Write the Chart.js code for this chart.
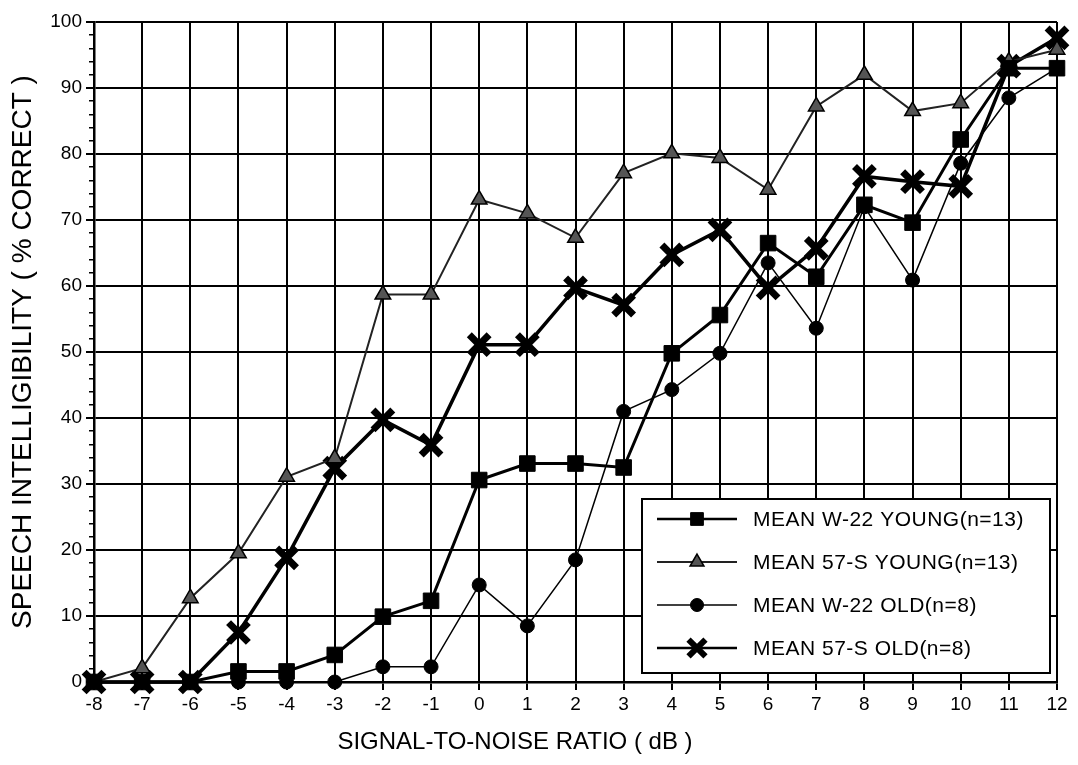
<!DOCTYPE html>
<html>
<head>
<meta charset="utf-8">
<script src="https://cdn.jsdelivr.net/npm/chart.js@4/dist/chart.umd.min.js"></script>
<style>
  body { margin: 0; background: #fff; }
  #wrap { width: 1078px; height: 765px; }
</style>
</head>
<body>
<div id="wrap"><canvas id="myChart" width="1078" height="765"></canvas></div>
<script>
// SNR categories (dB)
const snr = ['-8', '-7', '-6', '-5', '-4', '-3', '-2', '-1', '0', '1', '2', '3', '4', '5', '6', '7', '8', '9', '10', '11', '12'];

// % correct
const w22Young = [0, 0, 0, 1.6, 1.6, 4.1, 9.9, 12.3, 30.6, 33.1, 33.1, 32.5, 49.8, 55.6, 66.5, 61.4, 72.3, 69.6, 82.2, 93, 93];
const s57Young = [0, 2.1, 12.7, 19.5, 31.1, 33.9, 58.7, 58.7, 73.1, 71.0, 67.3, 77.1, 80.1, 79.4, 74.6, 87.2, 92.0, 86.5, 87.7, 94, 95.8];
const w22Old = [0, 0, 0, 0, 0, 0, 2.3, 2.3, 14.7, 8.5, 18.5, 41.0, 44.3, 49.8, 63.5, 53.6, 72, 60.9, 78.6, 88.5, 93];
const s57Old = [0, 0, 0, 7.5, 18.8, 32.4, 39.7, 35.9, 51.1, 51.1, 59.7, 57.1, 64.7, 68.5, 59.7, 65.7, 76.6, 75.8, 75.1, 93.3, 97.6];

const yTicks = [0, 10, 20, 30, 40, 50, 60, 70, 80, 90, 100];

const FONT = '"Liberation Sans", Arial, sans-serif';

// legend drawn inside the plot, lower right
const boxLegend = {
    id: 'boxLegend',
    afterDraw(chart) {
        const ctx = chart.ctx;
        const ca = chart.chartArea;
        const x0 = ca.right - 415, y0 = ca.bottom - 183, w = 408, h = 174;
        const markerSize = [9, 8, 6.5, 12];
        ctx.save();
        ctx.fillStyle = '#fff';
        ctx.fillRect(x0, y0, w, h);
        ctx.strokeStyle = '#000';
        ctx.lineWidth = 2;
        ctx.strokeRect(x0, y0, w, h);
        ctx.font = '21px ' + FONT;
        ctx.letterSpacing = '0.5px';
        ctx.textBaseline = 'middle';
        chart.data.datasets.forEach((ds, i) => {
            const cy = y0 + 20 + i * 43;
            ctx.strokeStyle = ds.borderColor;
            ctx.lineWidth = Math.min(ds.borderWidth, 2.5);
            ctx.beginPath();
            ctx.moveTo(x0 + 15, cy);
            ctx.lineTo(x0 + 95, cy);
            ctx.stroke();
            ctx.fillStyle = ds.pointBackgroundColor;
            ctx.strokeStyle = ds.pointBorderColor;
            ctx.lineWidth = i === 3 ? 6 : ds.pointBorderWidth;
            Chart.helpers.drawPoint(ctx, {
                pointStyle: ds.pointStyle,
                radius: markerSize[i],
                rotation: 0,
                borderWidth: ctx.lineWidth
            }, x0 + 55, cy);
            ctx.fillStyle = '#000';
            ctx.fillText(ds.label, x0 + 111, cy + 1);
        });
        ctx.restore();
    }
};

// x axis title sits left of centre in the original
const xTitle = {
    id: 'xTitle',
    afterDraw(chart) {
        const ctx = chart.ctx;
        ctx.save();
        ctx.font = '24px ' + FONT;
        ctx.fillStyle = '#000';
        ctx.textAlign = 'center';
        ctx.textBaseline = 'middle';
        ctx.fillText('SIGNAL-TO-NOISE RATIO ( dB )', 515, 742);
        ctx.restore();
    }
};

const config = {
    type: 'line',
    data: {
        labels: snr,
        datasets: [{
            label: 'MEAN W-22 YOUNG(n=13)',
            data: w22Young,
            borderColor: '#000',
            borderWidth: 3,
            pointStyle: 'rect',
            pointRadius: 11,
            pointBackgroundColor: '#000',
            pointBorderColor: '#000',
            pointBorderWidth: 1,
            clip: false
        }, {
            label: 'MEAN 57-S YOUNG(n=13)',
            data: s57Young,
            borderColor: '#222',
            borderWidth: 2,
            pointStyle: 'triangle',
            pointRadius: 9,
            pointBackgroundColor: '#555',
            pointBorderColor: '#000',
            pointBorderWidth: 1.5,
            clip: false
        }, {
            label: 'MEAN W-22 OLD(n=8)',
            data: w22Old,
            borderColor: '#000',
            borderWidth: 1.5,
            pointStyle: 'circle',
            pointRadius: 7,
            pointBackgroundColor: '#000',
            pointBorderColor: '#000',
            pointBorderWidth: 1,
            clip: false
        }, {
            label: 'MEAN 57-S OLD(n=8)',
            data: s57Old,
            borderColor: '#000',
            borderWidth: 3.5,
            pointStyle: 'crossRot',
            pointRadius: 14,
            pointBackgroundColor: '#000',
            pointBorderColor: '#000',
            pointBorderWidth: 7,
            clip: false
        }]
    },
    options: {
        responsive: false,
        animation: false,
        layout: { padding: { left: 0, top: 22, right: 16, bottom: 0 } },
        plugins: {
            legend: { display: false },
            tooltip: { enabled: false }
        },
        scales: {
            x: {
                offset: false,
                grid: { color: '#000', lineWidth: 2, tickLength: 8 },
                border: { color: '#000', width: 2.5 },
                ticks: { color: '#000', font: { family: FONT, size: 19 }, padding: 3, maxRotation: 0, autoSkip: false },
                afterFit(s) { s.height = 83; }
            },
            y: {
                position: 'left',
                weight: 1,
                min: 0,
                max: 100,
                afterBuildTicks(s) { s.ticks = yTicks.map(v => ({ value: v })); },
                grid: { color: '#000', lineWidth: 2, tickLength: 8 },
                border: { color: '#000', width: 2.5 },
                ticks: { color: '#000', font: { family: FONT, size: 19 }, padding: 4 },
                title: {
                    display: true,
                    text: 'SPEECH INTELLIGIBILITY ( % CORRECT )',
                    color: '#000',
                    font: { family: FONT, size: 28 },
                    padding: { top: 6, bottom: 0 }
                },
                afterFit(s) { s.width = 94; }
            },
            yMinor: {
                position: 'left',
                weight: 0,
                min: 0,
                max: 100,
                ticks: { display: false, stepSize: 2 },
                grid: { drawOnChartArea: false, color: '#000', lineWidth: 1.5, tickLength: 5 },
                border: { display: false },
                afterFit(s) { s.width = 0; }
            }
        }
    },
    plugins: [boxLegend, xTitle]
};

const myLineChart = new Chart(document.getElementById('myChart'), config);
</script>
</body>
</html>
